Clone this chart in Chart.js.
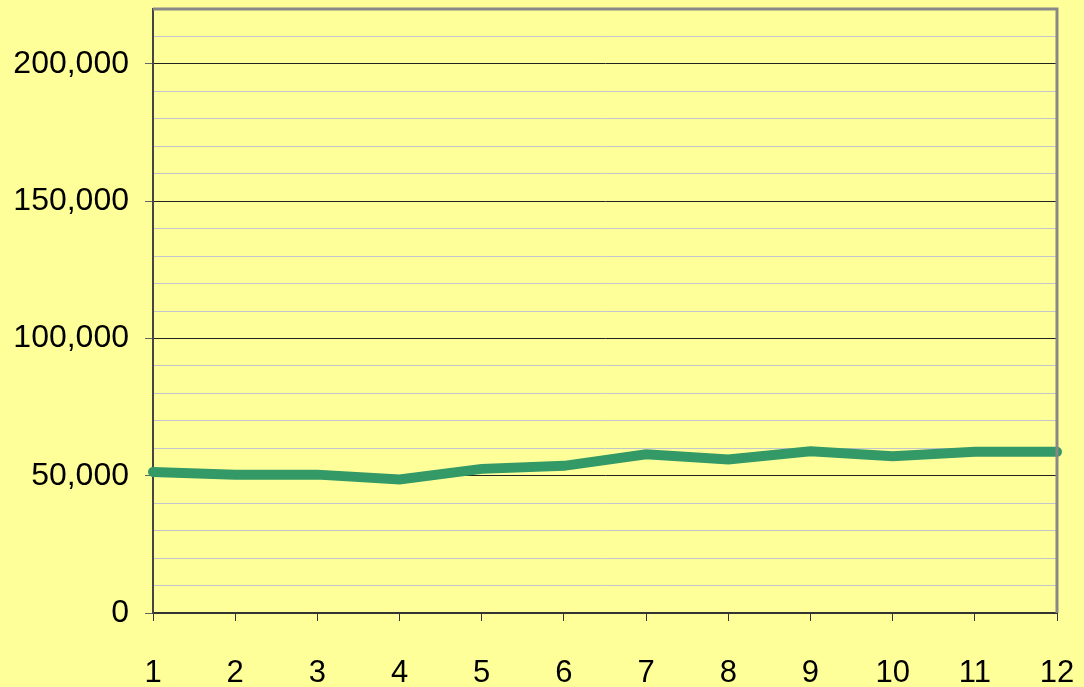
<!DOCTYPE html>
<html>
<head>
<meta charset="utf-8">
<script src="https://cdn.jsdelivr.net/npm/chart.js@4"></script>
<style>
  html, body { margin: 0; padding: 0; background: #ffff99; }
  #wrap { width: 1084px; height: 687px; }
</style>
</head>
<body>
<div id="wrap"><canvas id="lineChart" width="1084" height="687"></canvas></div>
<script>
'use strict';
// data
let months=['1','2','3','4','5','6','7','8','9','10','11','12'];
let values=[51400, 50400, 50400, 48600, 52500, 53600, 57800, 55900, 58900, 57100, 58700, 58700];
let yMin=0;
let yMax=220000;
let yStep=10000;
let majorStep=50000;

let ctx=document.getElementById('lineChart').getContext('2d');

//draws the yellow background and the grey frame on top and right
let framePlugin={
  id: 'frame',
  beforeDraw(chart){
    let c=chart.ctx;
    c.save();
    c.fillStyle='#ffff99';
    c.fillRect(0, 0, chart.width, chart.height);
    c.restore();
  },
  afterDraw(chart){
    let a=chart.chartArea;
    let c=chart.ctx;
    c.save();
    c.strokeStyle='#888888';
    c.lineWidth=3;
    c.beginPath();
    c.moveTo(a.left, a.top);
    c.lineTo(a.right, a.top);
    c.lineTo(a.right, a.bottom);
    c.stroke();
    c.restore();
  }
};

let lineChart=new Chart(ctx, {
  type: 'line',
  data: {
    labels: months,
    datasets: [{
      data: values,
      borderColor: '#339966',
      backgroundColor: '#339966',
      borderWidth: 10,
      tension: 0,
      pointRadius: 0,
      borderCapStyle: 'round',
      clip: false
    }]
  },
  options: {
    responsive: false,
    animation: false,
    layout: {padding: {top: 9, right: 27, left: 0, bottom: 0}},
    plugins: {legend: {display: false}, tooltip: {enabled: false}},
    scales: {
      x: {
        offset: false,
        grid: {drawOnChartArea: false, drawTicks: true, tickLength: 8, color: '#333333', offset: false},
        border: {color: '#333333', width: 2},
        ticks: {
          color: '#000000',
          font: {family: '"Liberation Sans", Arial, sans-serif', size: 31},
          padding: 34,
          maxRotation: 0,
          autoSkip: false
        },
        afterFit(scale){
          scale.height=74;
          scale.paddingLeft=0;
          scale.paddingRight=0;
        }
      },
      y: {
        min: yMin,
        max: yMax,
        grid: {
          color(context){
            if(context.tick && context.tick.value % majorStep === 0) return '#222222';
            return '#c4c4cc';
          },
          tickColor(context){
            if(context.tick && context.tick.value % majorStep === 0) return '#666666';
            return 'rgba(0,0,0,0)';
          },
          tickLength: 8,
          lineWidth: 1
        },
        border: {color: '#444444', width: 2},
        ticks: {
          stepSize: yStep,
          color: '#000000',
          font: {family: '"Liberation Sans", Arial, sans-serif', size: 32},
          padding: 16,
          autoSkip: false,
          callback(value){
            if(value % majorStep !== 0) return '';
            return value.toLocaleString('en-US');
          }
        },
        afterFit(scale){
          scale.width=153;
          scale.paddingTop=0;
          scale.paddingBottom=0;
        }
      }
    }
  },
  plugins: [framePlugin]
});
</script>
</body>
</html>
